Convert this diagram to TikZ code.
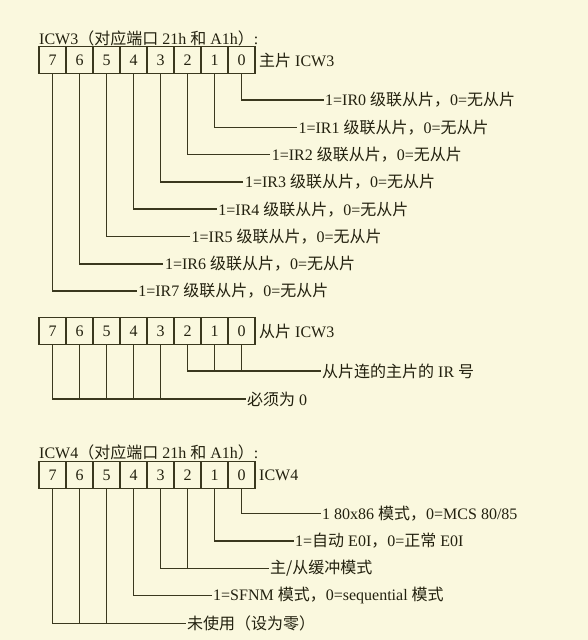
\documentclass[tikz,border=0pt]{standalone}
\usepackage{fontspec}
\setmainfont{Liberation Serif}
\newfontfamily\cjk{Noto Sans CJK SC}
\definecolor{bg}{RGB}{250,248,222}
\definecolor{ln}{RGB}{58,56,30}
\definecolor{tx}{RGB}{35,33,15}
\begin{document}
\begin{tikzpicture}[x=1pt,y=-1pt,
  cell/.style={draw=ln,line width=1.5pt,minimum width=27pt,minimum height=26.6pt,inner sep=0pt,font=\fontsize{16}{16}\selectfont,text=tx},
  lbl/.style={anchor=west,inner xsep=1.5pt,inner ysep=0pt,font=\fontsize{16}{18}\selectfont,text=tx},
  conn/.style={draw=ln,line width=1.5pt,line join=miter}]
\fill[bg] (0,0) rectangle (588,640);
\useasboundingbox (0,0) rectangle (588,640);

% ---------- ICW3 master ----------
\node[lbl,inner xsep=0pt] (h1) at (39,38) {ICW3{\cjk （对应端口} 21h {\cjk 和} A1h{\cjk ）}:};
\foreach \b in {0,...,7} \node[cell] (a\b) at ({241.5-27*\b},60) {\b};
\node[lbl] (l1) at (257.5,60) {{\cjk 主片} ICW3};
\foreach \b in {0,...,7} {
  \node[lbl] (r\b) at ({323.5-26.7*\b},{100+27.3*\b}) {1=IR\b\ {\cjk 级联从片，}0={\cjk 无从片}};
  \draw[conn] (a\b.south) |- (r\b.west);
}

% ---------- ICW3 slave ----------
\foreach \b in {0,...,7} \node[cell] (c\b) at ({241.5-27*\b},331) {\b};
\node[lbl] (l2) at (257.5,331) {{\cjk 从片} ICW3};
\node[lbl] (s1) at (320.5,371) {{\cjk 从片连的主片的} IR {\cjk 号}};
\node[lbl] (s2) at (245.5,399) {{\cjk 必须为} 0};
\draw[conn] (c2.south) |- (s1.west);
\foreach \b in {0,1} \draw[conn] (c\b.south) -- (c\b.south |- s1.west);
\draw[conn] (c7.south) |- (s2.west);
\foreach \b in {3,4,5,6} \draw[conn] (c\b.south) -- (c\b.south |- s2.west);

% ---------- ICW4 ----------
\node[lbl,inner xsep=0pt] (h3) at (39,452) {ICW4{\cjk （对应端口} 21h {\cjk 和} A1h{\cjk ）}:};
\foreach \b in {0,...,7} \node[cell] (d\b) at ({241.5-27*\b},475) {\b};
\node[lbl] (l3) at (257.5,475) {ICW4};
\node[lbl] (u0) at (320.5,513.3) {1 80x86 {\cjk 模式，}0=MCS 80/85};
\node[lbl] (u1) at (293.5,541) {1={\cjk 自动} E0I{\cjk ，}0={\cjk 正常} E0I};
\node[lbl] (u2) at (268.5,568.3) {{\cjk 主/从缓冲模式}};
\node[lbl] (u3) at (211.5,595.7) {1=SFNM {\cjk 模式，}0=sequential {\cjk 模式}};
\node[lbl] (u4) at (185.5,623.3) {{\cjk 未使用（设为零）}};
\draw[conn] (d0.south) |- (u0.west);
\draw[conn] (d1.south) |- (u1.west);
\draw[conn] (d3.south) |- (u2.west);
\draw[conn] (d2.south) -- (d2.south |- u2.west);
\draw[conn] (d4.south) |- (u3.west);
\draw[conn] (d7.south) |- (u4.west);
\foreach \b in {5,6} \draw[conn] (d\b.south) -- (d\b.south |- u4.west);
\end{tikzpicture}
\end{document}
